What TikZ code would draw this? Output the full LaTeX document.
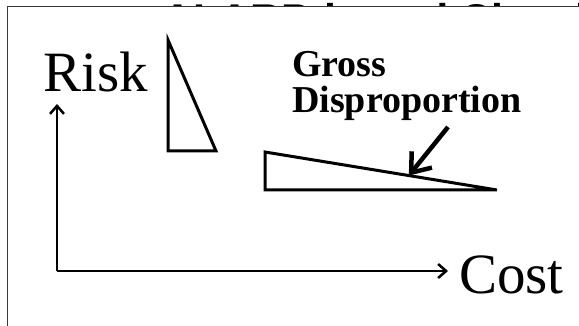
\documentclass[tikz,border=0pt]{standalone}
\usepackage{fontspec}
\setmainfont{Liberation Serif}
\newfontfamily\headfont{Liberation Sans}
\usetikzlibrary{arrows.meta,positioning,calc}
\definecolor{ink}{HTML}{000000}
\definecolor{framegray}{HTML}{3A3A3A}
\tikzset{
  bigword/.style={font=\fontsize{57}{60}\selectfont, inner sep=0pt, anchor=base west},
  boldword/.style={font=\fontsize{38}{40}\selectfont\bfseries, inner sep=0pt, anchor=base west},
  headword/.style={font=\fontsize{43}{46}\selectfont\headfont\bfseries, inner sep=0pt, anchor=base west},
  frame/.style={draw=framegray, line width=1pt, fill=white},
  axis/.style={-{Straight Barb[length=8pt, width=14pt]}, line width=2.5pt, line join=miter},
  wedge/.style={draw=ink, line width=3pt, line join=miter},
  pointer/.style={-{Straight Barb[length=17pt, width=26pt]}, line width=4.5pt}
}

\begin{document}
\begin{tikzpicture}[x=1pt, y=-1pt]
  \useasboundingbox (0,0) rectangle (579,326);
  \clip (0,0) rectangle (579,326);

  % title, mostly hidden by the frame
  \node[headword] (title) at (162,35) {ALARP-based Classification};
  \path[frame] (7,340) -- (7,7) -- (600,7) -- (600,340) -- cycle;

  % axes
  \coordinate (origin) at (57,271);
  \coordinate (ytip) at (57,104);
  \coordinate (xtip) at (448,271);
  \draw[axis] (origin) -- (ytip);
  \draw[axis] (origin) -- (xtip);
  \node[bigword] (risk) at (43,92) {Risk};
  \node[bigword] (cost) at (459,293) {Cost};

  % triangles
  \coordinate (tall-top) at (168,40);
  \coordinate (tall-foot) at (168,151);
  \coordinate (tall-tip) at (216,151);
  \draw[wedge] (tall-top) -- (tall-foot) -- (tall-tip) -- cycle;
  \coordinate (flat-top) at (265,152);
  \coordinate (flat-foot) at (265,190);
  \coordinate (flat-tip) at (497,190);
  \draw[wedge] (flat-top) -- (flat-foot) -- (flat-tip) -- cycle;

  % label
  \node[boldword] (gross) at (292,77) {Gross};
  \node[boldword] (dispro) at (292,113) {Disproportion};
  \coordinate (hit) at ($(flat-top)!0.62!(flat-tip)$);
  \coordinate (tail) at (448,127);
  \draw[pointer] (tail) -- (hit);
\end{tikzpicture}
\end{document}
